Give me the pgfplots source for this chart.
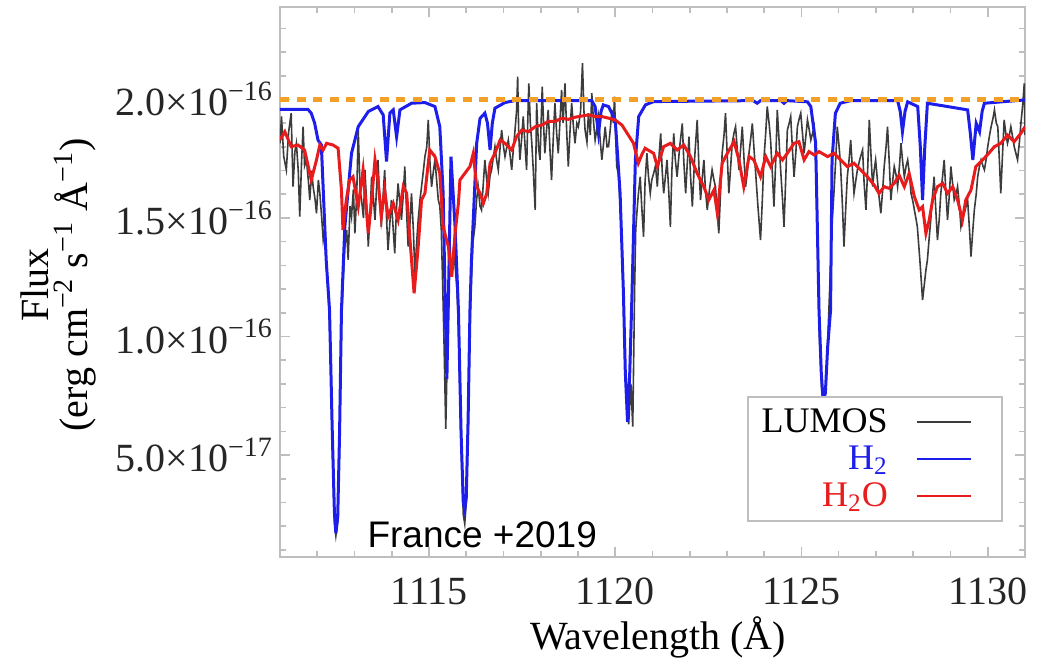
\documentclass[border=0pt]{standalone}
\usepackage{fontspec}
\setmainfont{Liberation Serif}
\newfontfamily\sansarial{Liberation Sans}
\usepackage{pgfplots}
\pgfplotsset{compat=1.18}
\definecolor{hblue}{RGB}{30,30,235}
\definecolor{hred}{RGB}{232,28,28}
\definecolor{lumos}{RGB}{60,60,60}
\definecolor{dorange}{RGB}{242,160,40}
\definecolor{framec}{RGB}{190,190,190}
\begin{document}
\begin{tikzpicture}
\begin{axis}[
  scale only axis, width=372.5pt, height=275pt,
  xmin=1111, xmax=1131, ymin=0.07, ymax=2.39,
  xtick={1115,1120,1125,1130},
  xticklabels={1115,1120,1125,1130},
  minor xtick={1111,1112,...,1131},
  ytick={0.5,1,1.5,2},
  yticklabels={5.0×10\textsuperscript{−17},1.0×10\textsuperscript{−16},1.5×10\textsuperscript{−16},2.0×10\textsuperscript{−16}},
  minor ytick={0.1,0.2,...,2.35},
  tick align=inside,
  axis line style={framec, line width=0.8pt},
  every tick/.style={framec, line width=0.8pt},
  major tick length=5pt, minor tick length=3pt,
  tick label style={font=\fontsize{20}{24}\selectfont, color=black!85},
  xticklabel style={yshift=-7pt},
  legend plot pos=right,
  legend cell align=right,
  legend style={at={(0.9705,0.0636)}, anchor=south east, draw=framec, line width=0.8pt,
    font=\fontsize{18}{20}\selectfont, row sep=1pt, column sep=12pt, inner xsep=5pt, inner ysep=4pt},
  legend image code/.code={\draw[#1, line width=1pt] (0cm,0cm) -- (0.95cm,0cm); \path (1.3cm,0cm);},
]
\addplot[lumos, line width=0.8pt] coordinates {
(1111.00,1.815)(1111.04,1.928)(1111.10,1.76)(1111.17,1.703)(1111.23,1.86)(1111.30,1.942)(1111.35,1.632)(1111.40,1.78)(1111.44,1.815)(1111.49,1.70)(1111.53,1.506)(1111.58,1.74)(1111.62,1.885)(1111.66,1.72)(1111.71,1.745)(1111.76,1.66)(1111.80,1.576)(1111.85,1.70)(1111.89,1.632)(1111.94,1.58)(1111.98,1.520)(1112.03,1.66)(1112.07,1.604)(1112.12,1.50)(1112.16,1.407)(1112.20,1.45)(1112.24,1.30)(1112.29,1.22)(1112.33,1.05)(1112.37,0.85)(1112.40,0.58)(1112.46,0.22)(1112.50,0.16)(1112.55,0.22)(1112.60,0.55)(1112.65,1.05)(1112.70,1.25)(1112.74,1.379)(1112.79,1.45)(1112.83,1.323)(1112.88,1.55)(1112.92,1.506)(1112.97,1.62)(1113.01,1.435)(1113.06,1.60)(1113.10,1.871)(1113.15,1.62)(1113.19,1.576)(1113.24,1.50)(1113.28,1.703)(1113.33,1.55)(1113.37,1.379)(1113.42,1.52)(1113.46,1.674)(1113.51,1.58)(1113.55,1.492)(1113.59,1.62)(1113.63,1.745)(1113.68,1.57)(1113.72,1.463)(1113.77,1.60)(1113.81,1.703)(1113.86,1.50)(1113.90,1.365)(1113.95,1.48)(1113.99,1.576)(1114.04,1.45)(1114.08,1.351)(1114.13,1.55)(1114.17,1.646)(1114.22,1.56)(1114.26,1.492)(1114.31,1.60)(1114.35,1.717)(1114.40,1.52)(1114.44,1.379)(1114.49,1.48)(1114.53,1.604)(1114.58,1.45)(1114.62,1.267)(1114.67,1.40)(1114.71,1.492)(1114.76,1.58)(1114.80,1.632)(1114.85,1.70)(1114.89,1.759)(1114.94,1.80)(1114.98,1.914)(1115.03,1.72)(1115.07,1.632)(1115.12,1.70)(1115.16,1.745)(1115.21,1.65)(1115.25,1.576)(1115.29,1.55)(1115.33,1.45)(1115.37,1.20)(1115.40,1.00)(1115.45,0.61)(1115.50,1.00)(1115.56,1.40)(1115.61,1.252)(1115.66,1.38)(1115.70,1.30)(1115.75,1.20)(1115.79,1.05)(1115.86,0.55)(1115.92,0.25)(1115.96,0.21)(1116.00,0.30)(1116.05,0.60)(1116.10,1.05)(1116.14,1.25)(1116.18,1.40)(1116.23,1.463)(1116.28,1.58)(1116.32,1.632)(1116.37,1.55)(1116.41,1.534)(1116.46,1.65)(1116.50,1.745)(1116.55,1.66)(1116.59,1.604)(1116.64,1.68)(1116.68,1.703)(1116.73,1.76)(1116.77,1.801)(1116.82,1.74)(1116.86,1.703)(1116.91,1.80)(1116.95,1.871)(1117.00,1.80)(1117.04,1.759)(1117.09,1.80)(1117.13,1.829)(1117.18,1.76)(1117.22,1.703)(1117.27,1.80)(1117.31,1.871)(1117.35,1.95)(1117.38,2.096)(1117.41,1.85)(1117.44,1.745)(1117.49,1.84)(1117.53,1.928)(1117.58,1.80)(1117.62,1.703)(1117.65,1.90)(1117.68,2.068)(1117.72,1.90)(1117.76,1.815)(1117.80,1.70)(1117.85,1.534)(1117.89,1.984)(1117.94,1.80)(1117.98,1.745)(1118.01,1.90)(1118.04,2.054)(1118.08,1.88)(1118.11,1.773)(1118.16,1.88)(1118.20,1.956)(1118.25,1.78)(1118.29,1.660)(1118.34,1.85)(1118.38,1.984)(1118.43,1.85)(1118.47,1.773)(1118.52,1.92)(1118.56,2.040)(1118.60,1.90)(1118.65,2.068)(1118.70,1.85)(1118.74,1.717)(1118.79,1.88)(1118.83,1.984)(1118.88,1.88)(1118.92,1.815)(1118.97,1.90)(1119.01,1.885)(1119.07,1.95)(1119.12,2.153)(1119.16,1.95)(1119.19,1.871)(1119.24,1.82)(1119.28,1.942)(1119.33,1.85)(1119.37,2.026)(1119.42,1.90)(1119.46,1.829)(1119.51,1.88)(1119.55,1.928)(1119.60,1.82)(1119.64,1.745)(1119.69,1.82)(1119.73,1.885)(1119.78,1.80)(1119.82,1.801)(1119.87,1.88)(1119.91,1.956)(1119.95,1.90)(1119.98,2.012)(1120.01,1.85)(1120.04,1.717)(1120.09,1.68)(1120.13,1.55)(1120.18,1.40)(1120.22,1.15)(1120.26,0.90)(1120.30,0.75)(1120.36,0.63)(1120.42,0.80)(1120.47,0.62)(1120.52,1.20)(1120.55,1.45)(1120.58,1.520)(1120.62,1.60)(1120.67,1.674)(1120.71,1.55)(1120.76,1.421)(1120.80,1.65)(1120.85,1.773)(1120.89,1.68)(1120.94,1.604)(1120.98,1.66)(1121.03,1.688)(1121.08,1.72)(1121.13,1.632)(1121.17,1.75)(1121.22,1.857)(1121.26,1.70)(1121.30,1.604)(1121.35,1.68)(1121.39,1.745)(1121.44,1.60)(1121.48,1.463)(1121.52,1.70)(1121.57,1.857)(1121.61,1.75)(1121.66,1.674)(1121.73,1.80)(1121.80,1.899)(1121.84,1.74)(1121.89,1.604)(1121.93,1.72)(1121.98,1.843)(1122.02,1.68)(1122.07,1.548)(1122.13,1.75)(1122.20,1.914)(1122.25,1.70)(1122.29,1.576)(1122.33,1.66)(1122.38,1.745)(1122.42,1.62)(1122.47,1.534)(1122.53,1.62)(1122.60,1.703)(1122.65,1.66)(1122.69,1.632)(1122.74,1.52)(1122.78,1.435)(1122.83,1.62)(1122.87,1.773)(1122.92,1.85)(1122.96,1.942)(1123.01,1.75)(1123.05,1.604)(1123.10,1.72)(1123.14,1.815)(1123.19,1.86)(1123.23,1.885)(1123.28,1.78)(1123.32,1.703)(1123.37,1.80)(1123.41,1.885)(1123.46,1.74)(1123.50,1.632)(1123.55,1.70)(1123.59,1.773)(1123.64,1.84)(1123.68,1.899)(1123.73,1.78)(1123.77,1.688)(1123.83,1.55)(1123.90,1.407)(1123.95,1.58)(1123.99,1.745)(1124.04,1.86)(1124.08,1.970)(1124.13,1.90)(1124.17,1.829)(1124.22,1.68)(1124.26,1.548)(1124.31,1.75)(1124.35,1.956)(1124.40,1.82)(1124.44,1.703)(1124.49,1.58)(1124.53,1.463)(1124.58,1.68)(1124.62,1.871)(1124.67,1.90)(1124.71,1.928)(1124.76,1.78)(1124.80,1.674)(1124.85,1.78)(1124.89,1.885)(1124.94,1.92)(1124.98,1.942)(1125.03,1.85)(1125.07,1.773)(1125.12,1.85)(1125.16,1.914)(1125.21,1.87)(1125.25,1.829)(1125.30,1.86)(1125.34,1.885)(1125.38,1.75)(1125.42,1.50)(1125.48,1.00)(1125.54,0.78)(1125.60,0.71)(1125.66,0.80)(1125.72,1.05)(1125.78,1.30)(1125.83,1.50)(1125.87,1.604)(1125.92,1.75)(1125.96,1.885)(1126.01,1.80)(1126.05,1.717)(1126.10,1.55)(1126.14,1.379)(1126.19,1.55)(1126.23,1.674)(1126.28,1.75)(1126.32,1.829)(1126.37,1.70)(1126.41,1.604)(1126.46,1.66)(1126.50,1.703)(1126.57,1.75)(1126.64,1.787)(1126.68,1.65)(1126.73,1.534)(1126.78,1.72)(1126.82,1.914)(1126.87,1.75)(1126.91,1.632)(1126.95,1.70)(1126.99,1.745)(1127.06,1.62)(1127.13,1.520)(1127.18,1.62)(1127.22,1.717)(1127.27,1.80)(1127.31,1.885)(1127.36,1.72)(1127.40,1.576)(1127.45,1.66)(1127.49,1.717)(1127.54,1.68)(1127.58,1.632)(1127.63,1.72)(1127.67,1.815)(1127.72,1.73)(1127.76,1.674)(1127.81,1.72)(1127.85,1.745)(1127.90,1.68)(1127.94,1.604)(1127.99,1.57)(1128.03,1.534)(1128.07,1.50)(1128.11,1.463)(1128.15,1.38)(1128.19,1.295)(1128.25,1.154)(1128.29,1.210)(1128.34,1.28)(1128.38,1.323)(1128.43,1.42)(1128.47,1.492)(1128.52,1.60)(1128.56,1.674)(1128.61,1.52)(1128.65,1.407)(1128.70,1.50)(1128.74,1.604)(1128.79,1.68)(1128.83,1.745)(1128.88,1.60)(1128.92,1.492)(1128.97,1.60)(1129.01,1.717)(1129.06,1.64)(1129.10,1.576)(1129.15,1.60)(1129.19,1.632)(1129.24,1.55)(1129.28,1.463)(1129.33,1.50)(1129.37,1.520)(1129.42,1.55)(1129.46,1.576)(1129.51,1.45)(1129.55,1.337)(1129.60,1.45)(1129.64,1.534)(1129.69,1.60)(1129.73,1.674)(1129.78,1.72)(1129.82,1.745)(1129.87,1.72)(1129.91,1.703)(1129.96,1.75)(1130.00,1.801)(1130.05,1.85)(1130.09,1.885)(1130.14,1.92)(1130.18,1.956)(1130.23,1.90)(1130.27,1.885)(1130.31,1.75)(1130.35,1.604)(1130.40,1.78)(1130.44,1.914)(1130.49,1.85)(1130.53,1.815)(1130.58,1.85)(1130.62,1.885)(1130.67,1.84)(1130.71,1.801)(1130.76,1.77)(1130.80,1.745)(1130.85,1.82)(1130.89,1.899)(1130.94,1.98)(1130.98,2.068)(1131.00,1.85)
};
\addlegendentry{LUMOS}
\addplot[hblue, line width=1.5pt] coordinates {
(1111.00,1.958)(1111.75,1.958)(1111.84,1.942)(1111.93,1.90)(1112.02,1.829)(1112.11,1.808)(1112.24,1.323)(1112.33,1.11)(1112.40,0.62)(1112.46,0.26)(1112.50,0.17)(1112.55,0.24)(1112.60,0.60)(1112.65,1.11)(1112.74,1.463)(1112.92,1.773)(1113.10,1.885)(1113.37,1.949)(1113.63,1.970)(1113.77,1.935)(1113.86,1.738)(1113.95,1.942)(1114.04,1.956)(1114.13,1.843)(1114.22,1.956)(1114.53,1.984)(1114.89,1.987)(1115.16,1.970)(1115.29,1.885)(1115.38,1.604)(1115.44,1.10)(1115.48,0.82)(1115.52,1.15)(1115.59,1.759)(1115.70,1.463)(1115.79,1.112)(1115.86,0.60)(1115.92,0.30)(1115.96,0.27)(1116.00,0.32)(1116.05,0.65)(1116.10,1.112)(1116.14,1.323)(1116.28,1.815)(1116.37,1.920)(1116.50,1.942)(1116.57,1.90)(1116.64,1.787)(1116.70,1.90)(1116.77,1.963)(1117.04,1.987)(1117.30,1.995)(1119.37,1.995)(1119.46,1.970)(1119.55,1.857)(1119.62,1.95)(1119.68,1.977)(1119.82,1.970)(1120.00,1.914)(1120.13,1.604)(1120.22,1.182)(1120.27,0.85)(1120.33,0.64)(1120.39,0.85)(1120.45,1.182)(1120.54,1.745)(1120.63,1.928)(1120.81,1.977)(1121.03,1.991)(1123.70,1.995)(1123.81,1.984)(1123.90,1.995)(1124.45,1.995)(1124.53,1.984)(1124.61,1.995)(1125.16,1.990)(1125.25,1.970)(1125.38,1.815)(1125.47,1.112)(1125.53,0.85)(1125.58,0.73)(1125.64,0.76)(1125.70,0.95)(1125.78,1.112)(1125.82,1.745)(1125.91,1.942)(1126.04,1.984)(1126.32,1.995)(1127.58,1.995)(1127.65,1.95)(1127.71,1.864)(1127.78,1.95)(1127.85,1.990)(1128.12,1.970)(1128.19,1.80)(1128.25,1.576)(1128.31,1.80)(1128.38,1.984)(1129.46,1.956)(1129.53,1.86)(1129.60,1.745)(1129.69,1.899)(1129.78,1.864)(1129.85,1.95)(1129.91,1.984)(1131.00,1.998)
};
\addlegendentry{\textcolor{hblue}{H\textsubscript{2}}}
\addplot[hred, line width=1.5pt] coordinates {
(1111.00,1.829)(1111.13,1.864)(1111.30,1.801)(1111.48,1.808)(1111.66,1.787)(1111.84,1.660)(1111.98,1.745)(1112.07,1.808)(1112.16,1.787)(1112.25,1.815)(1112.42,1.808)(1112.56,1.794)(1112.65,1.618)(1112.69,1.449)(1112.78,1.576)(1112.87,1.660)(1112.96,1.674)(1113.10,1.548)(1113.23,1.703)(1113.37,1.435)(1113.46,1.576)(1113.55,1.745)(1113.63,1.660)(1113.72,1.506)(1113.81,1.618)(1113.90,1.506)(1114.04,1.562)(1114.17,1.492)(1114.31,1.632)(1114.40,1.604)(1114.49,1.407)(1114.60,1.182)(1114.71,1.379)(1114.80,1.576)(1114.89,1.604)(1115.02,1.787)(1115.16,1.759)(1115.29,1.688)(1115.38,1.463)(1115.52,1.379)(1115.61,1.252)(1115.70,1.435)(1115.79,1.562)(1115.83,1.660)(1115.96,1.688)(1116.10,1.717)(1116.19,1.773)(1116.28,1.632)(1116.37,1.604)(1116.46,1.562)(1116.55,1.604)(1116.64,1.731)(1116.77,1.773)(1116.91,1.829)(1117.04,1.815)(1117.22,1.787)(1117.35,1.843)(1117.49,1.871)(1117.67,1.864)(1117.85,1.885)(1118.03,1.892)(1118.20,1.907)(1118.38,1.907)(1118.56,1.921)(1118.74,1.916)(1118.92,1.925)(1119.10,1.930)(1119.28,1.935)(1119.46,1.928)(1119.64,1.928)(1119.82,1.921)(1119.99,1.914)(1120.18,1.892)(1120.35,1.850)(1120.49,1.815)(1120.62,1.731)(1120.71,1.766)(1120.80,1.794)(1121.03,1.773)(1121.13,1.717)(1121.30,1.801)(1121.48,1.815)(1121.66,1.787)(1121.84,1.808)(1122.02,1.759)(1122.20,1.688)(1122.38,1.632)(1122.51,1.576)(1122.65,1.618)(1122.74,1.520)(1122.87,1.731)(1123.01,1.773)(1123.19,1.822)(1123.32,1.745)(1123.45,1.632)(1123.59,1.759)(1123.72,1.745)(1123.90,1.674)(1124.04,1.759)(1124.17,1.717)(1124.35,1.773)(1124.49,1.745)(1124.62,1.773)(1124.80,1.815)(1124.93,1.822)(1125.07,1.745)(1125.20,1.780)(1125.34,1.766)(1125.47,1.780)(1125.70,1.759)(1125.87,1.773)(1126.05,1.745)(1126.23,1.717)(1126.41,1.731)(1126.59,1.703)(1126.77,1.674)(1126.95,1.639)(1127.08,1.604)(1127.22,1.632)(1127.35,1.625)(1127.49,1.646)(1127.62,1.681)(1127.76,1.632)(1127.89,1.688)(1128.03,1.590)(1128.16,1.534)(1128.25,1.548)(1128.34,1.435)(1128.43,1.492)(1128.52,1.576)(1128.65,1.632)(1128.79,1.646)(1128.92,1.604)(1129.06,1.632)(1129.19,1.576)(1129.32,1.492)(1129.41,1.576)(1129.55,1.618)(1129.68,1.717)(1129.86,1.745)(1129.99,1.766)(1130.18,1.801)(1130.35,1.815)(1130.53,1.850)(1130.71,1.822)(1130.89,1.857)(1131.00,1.885)
};
\addlegendentry{\textcolor{hred}{H\textsubscript{2}O}}
\addplot[dorange, line width=2.5pt, dash pattern=on 4.5pt off 3.8pt, forget plot] coordinates {(1111,2.0) (1131,2.0)};
\node[font=\sansarial\fontsize{18.5}{22}\selectfont, anchor=base west, inner sep=0pt] at (axis cs:1113.34,0.112) {France +2019};
\end{axis}
\node[font=\fontsize{20}{24}\selectfont, anchor=base] at ([xshift=2.75pt, yshift=-46.5pt]current axis.south) {Wavelength (Å)};
\node[font=\fontsize{20}{19.5}\selectfont, rotate=90, align=center, anchor=center] at ([xshift=-111pt, yshift=-1.5pt]current axis.west) {Flux\\(erg cm\textsuperscript{−2} s\textsuperscript{−1} Å\textsuperscript{−1})};
\coordinate (bl) at ([shift={(-140pt,-52.5pt)}]current axis.south west);
\coordinate (tr) at ([shift={(9pt,3.5pt)}]current axis.north east);
\pgfresetboundingbox
\useasboundingbox (bl) rectangle (tr);
\end{tikzpicture}
\end{document}
